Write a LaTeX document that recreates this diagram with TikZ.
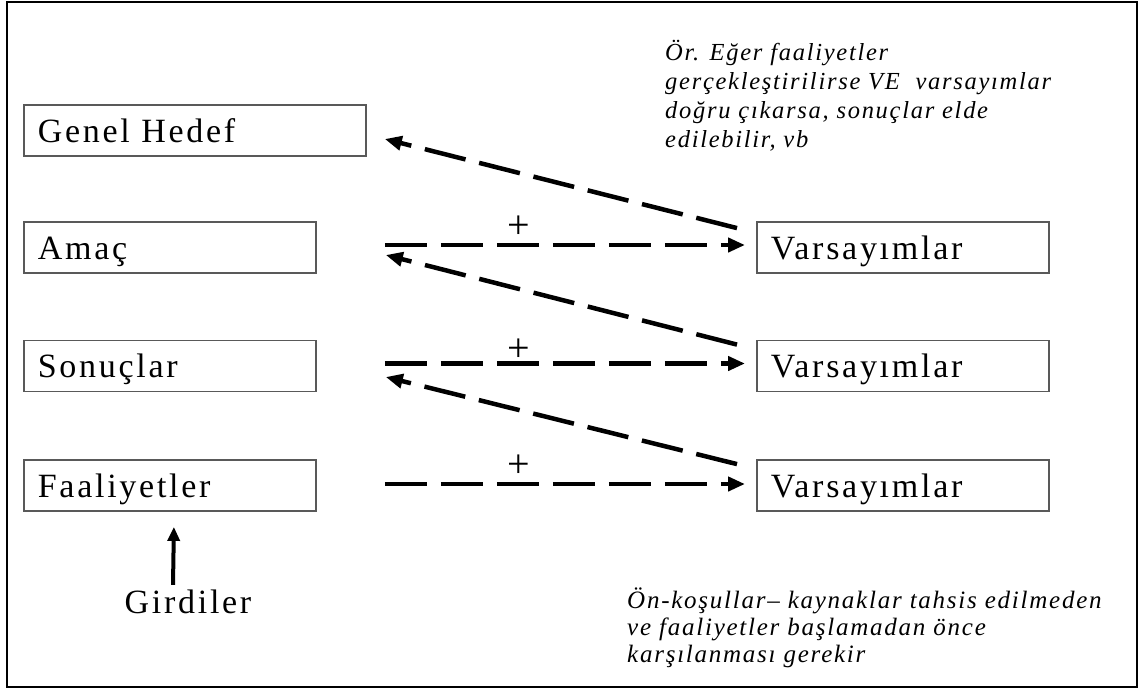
\documentclass[tikz,border=0pt]{standalone}
\usepackage{fontspec}
\setmainfont{Liberation Serif}
\newfontfamily\boxfont[LetterSpace=8]{Liberation Serif}
\newfontfamily\notefont[LetterSpace=7]{Liberation Serif}
\usetikzlibrary{arrows.meta,calc}

\begin{document}
\begin{tikzpicture}
      [x=1pt,y=-1pt,
      %%%%%%%%%%%%%%%%%%%%%%%%%%%%%%
      box/.style={rectangle,draw=black!65,line width=1.8pt,inner xsep=14pt,inner ysep=0pt,
        minimum height=51pt,text height=23pt,text depth=0pt,align=left,anchor=west,
        font=\boxfont\fontsize{34}{40}\selectfont},
      note/.style={anchor=north west,inner sep=0pt,align=left},
      dasharrow/.style={line width=4.5pt,dash pattern=on 42pt off 14pt,
        -{Triangle[length=17pt,width=14pt]}},
      inarrow/.style={line width=4pt,-{Triangle[length=14pt,width=12pt]}},
      plus/.style={inner sep=0pt,font=\fontsize{40}{40}\selectfont},
      ]%%%%%%%%%%%%%%%%%%%%%%%%%%%%%%
      \useasboundingbox (0,0) rectangle (1139,691);
      \draw[line width=2pt] (7,2) rectangle (1137,687);

      % left column
      \node[box,text width=314pt] (genel) at (23,130.5) {Genel Hedef};
      \node[box,text width=264pt] (amac)  at (23,247.5) {Amaç};
      \node[box,text width=264pt] (sonuc) at (23,366)   {Sonuçlar};
      \node[box,text width=264pt] (faal)  at (23,485.5) {Faaliyetler};

      % right column
      \node[box,text width=264pt] (vars1) at (756,247.5) {Varsayımlar};
      \node[box,text width=264pt] (vars2) at (756,366)   {Varsayımlar};
      \node[box,text width=264pt] (vars3) at (756,485.5) {Varsayımlar};

      \node[inner sep=0pt,text height=23pt,text depth=0pt,
        font=\boxfont\fontsize{34}{40}\selectfont] (girdi) at (188,602) {Girdiler};

      % notes
      \node[note,font=\notefont\itshape\fontsize{24.5}{29}\selectfont] (note1) at (665,40)
        {Ör. Eğer faaliyetler\\gerçekleştirilirse VE\ \ varsayımlar\\doğru çıkarsa, sonuçlar elde\\edilebilir, vb};
      \node[note,font=\notefont\itshape\fontsize{25}{27}\selectfont] (note2) at (627,588)
        {Ön-koşullar– kaynaklar tahsis edilmeden\\ve faaliyetler başlamadan önce\\karşılanması gerekir};

      % horizontal arrows
      \draw[dasharrow,shorten <=68pt,shorten >=11pt] ($(amac.east)+(0,-2.5)$) -- ($(vars1.west)+(0,-2.5)$);
      \draw[dasharrow,shorten <=68pt,shorten >=11pt] ($(sonuc.east)+(0,-2.5)$) -- ($(vars2.west)+(0,-2.5)$);
      \draw[dasharrow,shorten <=68pt,shorten >=11pt] ($(faal.east)+(0,-1.5)$) -- ($(vars3.west)+(0,-1.5)$);
      \node[plus] (plus1) at (519,227) {+};
      \node[plus] (plus2) at (519,350) {+};
      \node[plus] (plus3) at (519,466) {+};

      % diagonal arrows
      \draw[dasharrow] ($(vars1.north west)+(-19,7)$) -- ($(genel.east)+(18,8.5)$);
      \draw[dasharrow] ($(vars2.north west)+(-19,5)$) -- ($(amac.east)+(69,7.5)$);
      \draw[dasharrow] ($(vars3.north west)+(-19,5)$) -- ($(sonuc.east)+(69,11)$);

      \draw[inarrow] ($(girdi.north)+(-15,-5.5)$) -- ($(faal.south)+(4,15)$);
    \end{tikzpicture}
\end{document}
